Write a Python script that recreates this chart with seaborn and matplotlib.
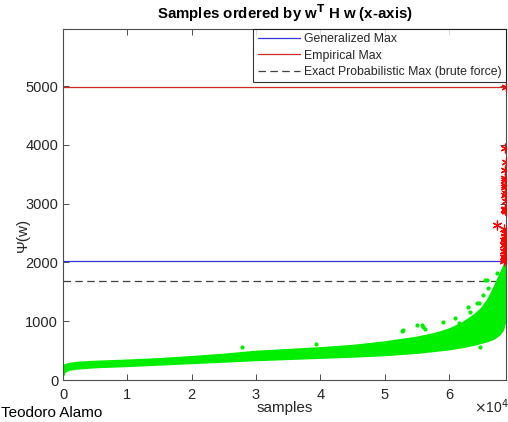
import matplotlib
matplotlib.use("Agg")
import matplotlib.pyplot as plt
import seaborn as sns
import numpy as np
import pandas as pd
from matplotlib.ticker import FixedLocator, FuncFormatter

sns.set_theme(style="white")
plt.rcParams['font.family'] = ['Liberation Sans', 'DejaVu Sans']

# ---- data ----
n_samples = 68860
generalized_max = 2020
empirical_max = 4990
exact_prob_max = 1690

# envelope of the dense green cloud (samples ordered by w^T H w)
band_x = [0, 200, 800, 2000, 5000, 10000, 15000, 20000, 25000, 30000, 35000, 40000,
          45000, 50000, 55000, 58000, 60000, 62000, 64000, 65000, 66000, 67000,
          67800, 68300, 68700, 68850]
band_lo = [90, 140, 180, 200, 225, 245, 270, 295, 320, 345, 365, 385,
           405, 430, 470, 505, 530, 565, 610, 640, 670, 715,
           780, 850, 1000, 1300]
band_hi = [240, 260, 280, 300, 320, 340, 365, 400, 440, 490, 520, 550,
           590, 650, 730, 800, 870, 970, 1120, 1220, 1370, 1590,
           1780, 1900, 2000, 2020]

# sparse green samples above the dense cloud
green_x = [27900, 39400, 52650, 52900, 55100, 55800, 56000, 56300, 58600, 59100,
           60900, 61500, 63000, 63300, 64300, 64600, 65300, 65600, 65900, 66100,
           67400, 67400, 64800]
green_y = [556, 612, 833, 850, 935, 935, 907, 862, 765, 992,
           1049, 964, 1247, 1160, 1304, 1304, 1445, 1700, 1700, 1559,
           1587, 1814, 566]

# red samples exceeding the generalized max
red_x = [68650, 68800, 68700, 68750, 68700, 68750, 68650, 68800, 68700, 68850,
         68750, 68800, 67400, 68600, 68750, 68650, 68800, 68700, 68600, 68800,
         68700, 68650, 68800, 68700, 68600, 68850, 68500, 68550, 68480, 68820,
         68780, 68840]
red_y = [3945, 3707, 3570, 3435, 3400, 3316, 3282, 3180, 3146, 3050,
         2890, 2870, 2636, 2560, 2500, 2450, 2400, 2350, 2300, 2260,
         2200, 2150, 2100, 2060, 2030, 4980, 2200, 2380, 2100, 2900,
         2910, 2880]

x_ticks = [0, 10000, 20000, 30000, 40000, 50000, 60000]
y_ticks = [0, 1000, 2000, 3000, 4000, 5000]

# ---- figure ----
fig = plt.figure(figsize=(5.08, 4.22), dpi=100)
ax = fig.add_axes([63/508, 42/422, 443/508, 351/422])

green = '#00ee00'
ax.fill_between(band_x, band_lo, band_hi, color=green, lw=1.5, edgecolor=green, zorder=2)
gdf = pd.DataFrame({'x': green_x, 'y': green_y})
sns.scatterplot(data=gdf, x='x', y='y', ax=ax, color=green, s=9, linewidth=0, zorder=3, legend=False)

rdf = pd.DataFrame({'x': red_x, 'y': red_y})
sns.scatterplot(data=rdf, x='x', y='y', ax=ax, color='red', marker=(6, 2, 0), s=40,
                linewidth=0.9, edgecolor='red', zorder=4, legend=False)

ax.plot([0, n_samples], [generalized_max]*2, color='#3535dd', lw=0.9, label='Generalized Max', zorder=1)
ax.plot([0, n_samples], [empirical_max]*2, color='#d02828', lw=0.9, label='Empirical Max', zorder=1)
ax.plot([0, n_samples], [exact_prob_max]*2, color='#404040', lw=0.9, ls=(0, (6, 3.5)),
        label='Exact Probabilistic Max (brute force)', zorder=1)

ax.set_xlim(0, n_samples)
ax.set_ylim(0, 5970)
ax.xaxis.set_major_locator(FixedLocator(x_ticks))
ax.yaxis.set_major_locator(FixedLocator(y_ticks))
ax.xaxis.set_major_formatter(FuncFormatter(lambda v, p: f"{v/1e4:g}"))
ax.yaxis.set_major_formatter(FuncFormatter(lambda v, p: f"{v:g}"))

tc = '#262626'
ax.tick_params(axis='both', direction='in', length=4, width=0.7, colors='#4d4d4d',
               labelcolor=tc, labelsize=10.5, top=True, right=True, bottom=True, left=True)
ax.tick_params(axis='x', pad=6)
for s in ax.spines.values():
    s.set_color('#4d4d4d')
    s.set_linewidth(0.8)

ax.set_xlabel('samples', fontsize=11, color=tc)
ax.xaxis.set_label_coords(0.5, -(401 - 380) / 351)
ax.set_ylabel('Ψ(w)', fontsize=11, color=tc)
ax.yaxis.set_label_coords(-(63 - 30) / 443, (380 - 235) / 351)
ax.set_title(r'Samples ordered by w$^{\mathbf{T}}$ H w (x-axis)', fontsize=10.8,
             fontweight='bold', color='black', pad=7)
fig.text(474/508, 1 - 413/422, r'$\times$10$^4$', fontsize=10, color=tc, ha='left', va='baseline')
fig.text(1/508, 1 - 417/422, 'Teodoro Alamo', fontsize=11, color='black', ha='left', va='baseline')

leg = ax.legend(loc='upper right', fontsize=8.8, frameon=True, fancybox=False,
                borderaxespad=0, handlelength=3.5, handletextpad=0.3, labelspacing=0.35,
                borderpad=0.35)
leg.get_frame().set_edgecolor('black')
leg.get_frame().set_linewidth(0.8)
for t in leg.get_texts():
    t.set_color(tc)

fig.savefig('out.png', dpi=100)
